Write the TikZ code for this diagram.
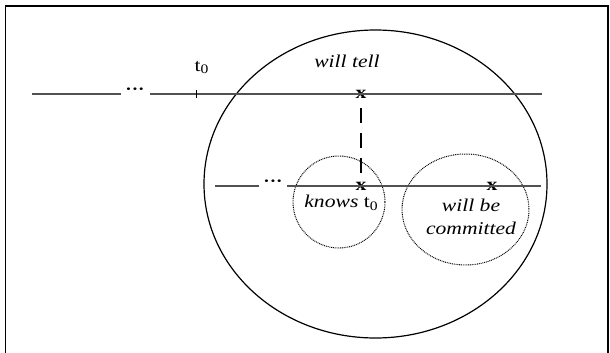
\documentclass[tikz,border=0pt]{standalone}
\usepackage{fontspec}
\setmainfont{Liberation Serif}[FakeStretch=1.2]
\newcommand{\sub}[1]{\raisebox{-0.35ex}{\fontsize{13}{13}\selectfont #1}}
\begin{document}
\begin{tikzpicture}[x=1pt,y=-1pt,
  txt/.style={inner sep=0pt, font=\fontsize{18}{23}\selectfont},
  itxt/.style={txt, font=\fontsize{18}{23}\selectfont\itshape},
  xmark/.style={inner sep=0pt, font=\fontsize{18}{18}\selectfont\bfseries},
  dots/.style={inner sep=0pt, font=\fontsize{16}{16}\selectfont\bfseries},
  tline/.style={draw=black!68, line width=1.4pt},
  bigc/.style={draw=black, line width=1.2pt},
  dotc/.style={draw=black, line width=1pt, dash pattern=on 0.9pt off 0.9pt},
  dashl/.style={draw=black, line width=1.3pt, dash pattern=on 15pt off 10pt}]
\useasboundingbox (0,0) rectangle (610,353);
\draw[line width=1.5pt] (5.7,6) rectangle (608,380);
% big circle
\draw[bigc] (375.5,184) ellipse [x radius=171.5, y radius=154];
% small dotted circles
\draw[dotc] (339,202) circle [radius=46];
\draw[dotc] (465.5,209.5) ellipse [x radius=63.5, y radius=55.5];
% top timeline
\coordinate (a1) at (32.3,94);
\coordinate (a2) at (121,94);
\coordinate (a3) at (150,94);
\coordinate (tick) at (196.7,94);
\coordinate (a4) at (542.3,94);
\node[dots] (d1) at (135,91.5) {\textperiodcentered\textperiodcentered\textperiodcentered};
\node[xmark] (x1) at (361,94) {x};
\draw[tline] (a1) -- (a2);
\draw[tline] (a3) -- (tick) -- (x1.center) -- (a4);
\draw[line width=1.5pt] ([yshift=4.5pt]tick) -- ([yshift=-4pt]tick);
\node[txt, anchor=base west] (t0) at (194.3,71) {t\sub{0}};
\node[itxt, anchor=base] (tell) at (347,67.7) {will tell};
% bottom timeline
\coordinate (b1) at (215,186);
\coordinate (b2) at (259,186);
\coordinate (b3) at (287,186);
\coordinate (b4) at (541,186);
\node[dots] (d2) at (273,183.5) {\textperiodcentered\textperiodcentered\textperiodcentered};
\node[xmark] (x2) at (361,186) {x};
\node[xmark] (x3) at (492,186) {x};
\draw[tline] (b1) -- (b2);
\draw[tline] (b3) -- (x2.center) -- (x3.center) -- (b4);
\draw[dashl] ([yshift=-10pt]x1.south) -- (x2.north);
% labels
\node[txt, anchor=base] (knows) at (341,207.5) {\textit{knows} t\sub{0}};
\node[itxt, align=center, anchor=base] (commit) at (471,234) {will be\\committed};
\end{tikzpicture}
\end{document}
